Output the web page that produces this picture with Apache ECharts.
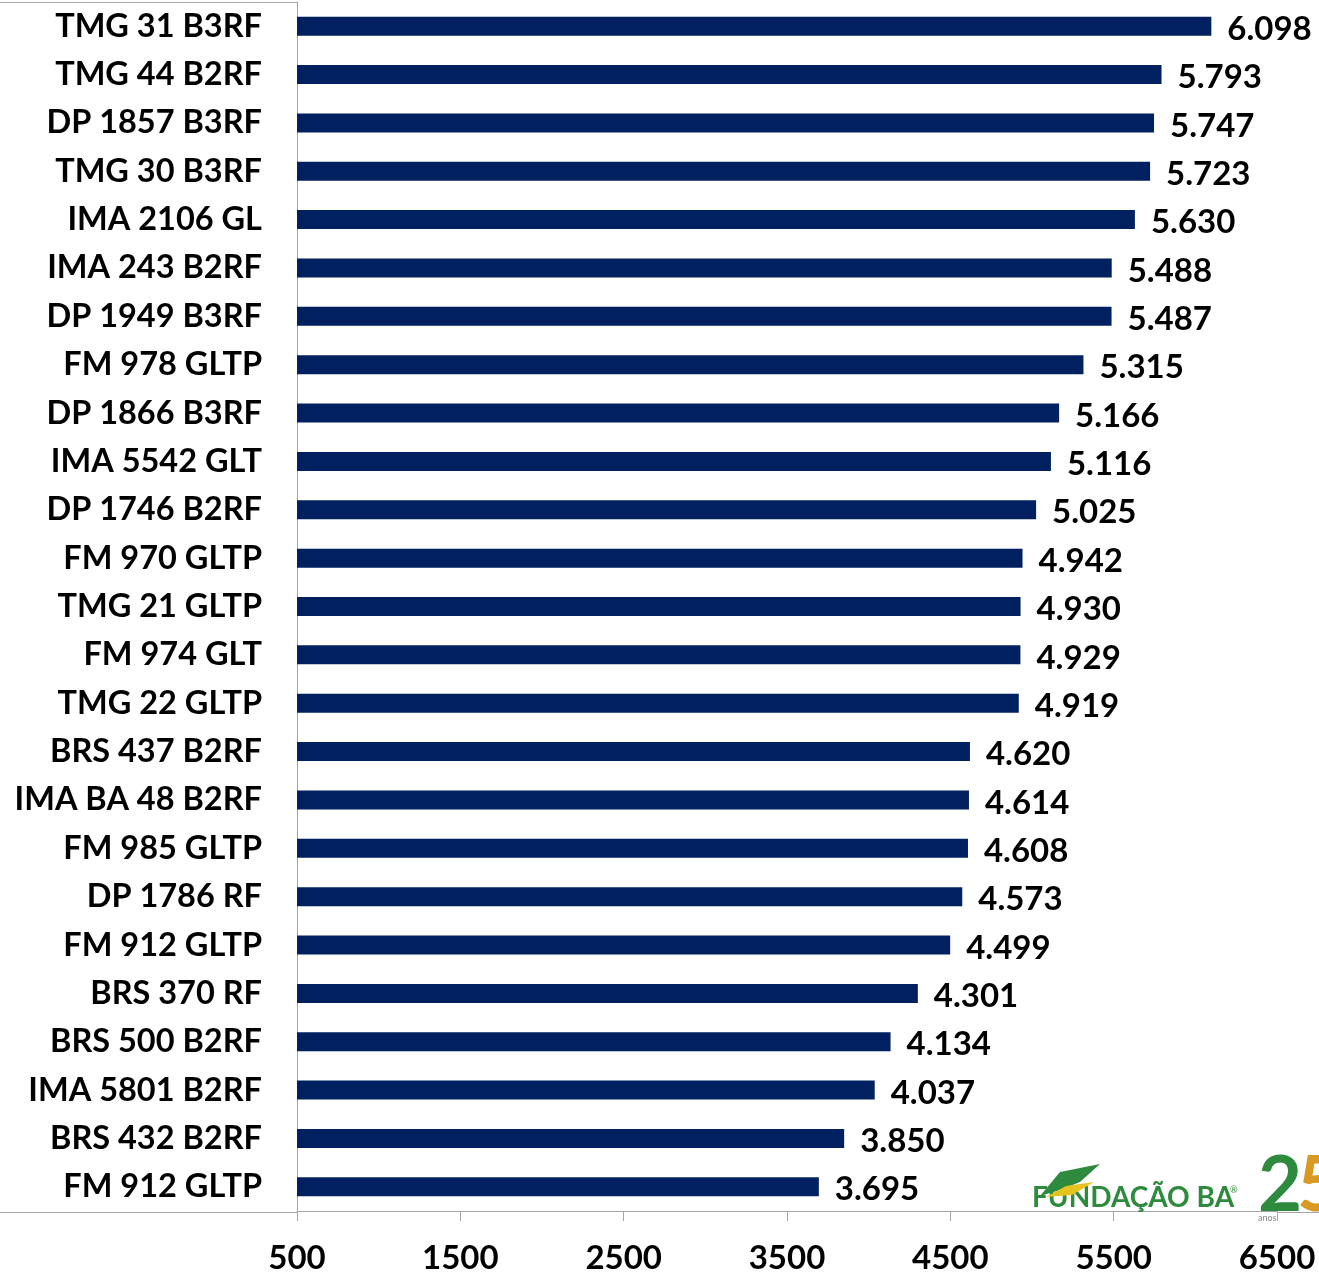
<!DOCTYPE html>
<html>
<head>
<meta charset="utf-8">
<script src="https://cdn.jsdelivr.net/npm/echarts@6/dist/echarts.min.js"></script>
<style>html,body{margin:0;padding:0;background:#fff}#c{width:1319px;height:1275px}</style>
</head>
<body>
<div id="c"></div>
<script>
const categories = ["TMG 31 B3RF","TMG 44 B2RF","DP 1857 B3RF","TMG 30 B3RF","IMA 2106 GL","IMA 243 B2RF","DP 1949 B3RF","FM 978 GLTP","DP 1866 B3RF","IMA 5542 GLT","DP 1746 B2RF","FM 970 GLTP","TMG 21 GLTP","FM 974 GLT","TMG 22 GLTP","BRS 437 B2RF","IMA BA 48 B2RF","FM 985 GLTP","DP 1786 RF","FM 912 GLTP","BRS 370 RF","BRS 500 B2RF","IMA 5801 B2RF","BRS 432 B2RF","FM 912 GLTP"];
const values = [6098,5793,5747,5723,5630,5488,5487,5315,5166,5116,5025,4942,4930,4929,4919,4620,4614,4608,4573,4499,4301,4134,4037,3850,3695];
const xTicks = [500,1500,2500,3500,4500,5500,6500];

const FONT = 'Lato';
const chart = echarts.init(document.getElementById('c'));
function fmt(v){ return String(v).replace(/\B(?=(\d{3})+(?!\d))/g, '.'); }
chart.setOption({
  animation:false,
  backgroundColor:'#fff',
  grid:{left:297,right:42,top:2,bottom:63,containLabel:false},
  xAxis:{
    type:'value',min:xTicks[0],max:xTicks[xTicks.length-1],interval:1000,
    axisLine:{show:true,lineStyle:{color:'#a6a6a6',width:1}},
    axisTick:{show:true,length:10,lineStyle:{color:'#a6a6a6'}},
    splitLine:{show:false},
    axisLabel:{margin:31,fontFamily:FONT,fontWeight:'bold',fontSize:33,color:'#000',formatter:v=>String(v)}
  },
  yAxis:{
    type:'category',data:categories,inverse:true,
    axisLine:{show:true,lineStyle:{color:'#a6a6a6',width:1}},
    axisTick:{show:false},
    axisLabel:{margin:35,fontFamily:FONT,fontWeight:'bold',fontSize:32.5,color:'#000'}
  },
  series:[{
    type:'bar',data:values,barWidth:19,
    itemStyle:{color:'#002060'},
    label:{show:true,position:'right',distance:16,offset:[0,3],fontFamily:FONT,fontWeight:'bold',fontSize:33,color:'#000',
      formatter:p=>fmt(p.value)}
  }],
  graphic:[
    {type:'line',shape:{x1:0,y1:2.5,x2:297,y2:2.5},style:{stroke:'#a6a6a6',lineWidth:1}},
    {type:'line',shape:{x1:0,y1:1212.5,x2:297,y2:1212.5},style:{stroke:'#a6a6a6',lineWidth:1}},
    {type:'line',shape:{x1:1277,y1:1212.5,x2:1319,y2:1212.5},style:{stroke:'#a6a6a6',lineWidth:1}},
    {type:'text',left:1032,top:1184,z:10,style:{text:'FUNDAÇÃO BA',font:'bold 28px "Liberation Sans Narrow", Lato',fill:'#2e8a3c'}},
    {type:'text',left:1230,top:1186,z:10,style:{text:'®',font:'9px Lato',fill:'#2e8a3c'}},
    {type:'text',left:1258,top:1148,z:10,style:{text:'2',font:'bold 76px Lato',fill:'#2e8a3c'}},
    {type:'text',left:1297,top:1148,z:10,style:{text:'5',font:'bold 76px Lato',fill:'#d89a22'}},
    {type:'text',left:1258,top:1214,z:10,style:{text:'anos',font:'9px Lato',fill:'#888'}},
    {type:'polygon',z:10,shape:{points:[[1040,1196],[1060,1172],[1100,1164],[1080,1182],[1060,1190]]},style:{fill:'#2e8a3c'}},
    {type:'polygon',z:10,shape:{points:[[1046,1197],[1066,1186],[1094,1182],[1072,1195]]},style:{fill:'#e6c21e'}}
  ]
});
</script>
</body>
</html>
